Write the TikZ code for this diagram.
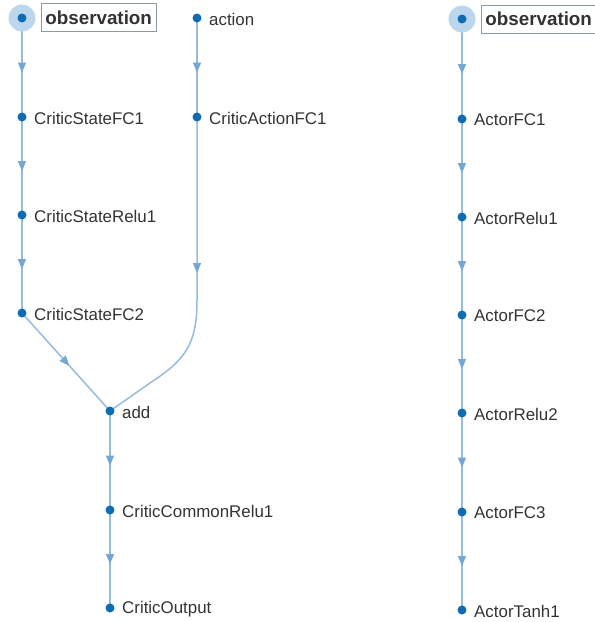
\documentclass[tikz,border=0pt]{standalone}
\usepackage{fontspec}
\setmainfont{Liberation Sans}
\usetikzlibrary{decorations.markings,backgrounds}
\definecolor{edgec}{HTML}{96BCDD}
\definecolor{markc}{HTML}{74A8D2}
\definecolor{dotc}{HTML}{0E6CB5}
\definecolor{halo}{HTML}{BCD7ED}
\definecolor{txtc}{HTML}{333333}
\definecolor{boxc}{HTML}{8A9AAA}
\tikzset{
  dot/.style={circle,fill=dotc,inner sep=0pt,minimum size=9pt},
  lbl/.style={anchor=west,inner sep=0pt,text=txtc,font=\fontsize{16.9}{20}\selectfont},
  sel/.style={anchor=west,draw=boxc,line width=0.8pt,fill=white,inner xsep=4pt,minimum height=28pt,text=txtc,font=\fontsize{18.8}{22}\selectfont\bfseries},
  halostyle/.style={circle,fill=halo,inner sep=0pt,minimum size=27pt},
  mk/.style={fill=markc},
  edge/.style={draw=edgec,line width=1.5pt,postaction={decorate},
    decoration={markings,mark=at position #1 with {\fill[mk] (5pt,0) -- (-5pt,4.2pt) -- (-5pt,-4.2pt) -- cycle;}}},
  edge/.default=0.5
}
\begin{document}
\begin{tikzpicture}[x=1pt,y=-1pt]
\useasboundingbox (0,0) rectangle (595,622);
% halos
\node[halostyle] (h1) at (22,18) {};
\node[halostyle] (h2) at (462,19) {};
% dots
\node[dot] (obs) at (22,18) {};
\node[dot] (csfc1) at (22,117) {};
\node[dot] (csr1) at (22,215) {};
\node[dot] (csfc2) at (22,313) {};
\node[dot] (act) at (197,18) {};
\node[dot] (cafc1) at (197,117) {};
\node[dot] (add) at (110,411) {};
\node[dot] (ccr1) at (110,510) {};
\node[dot] (cout) at (110,608) {};
\node[dot] (aobs) at (462,19) {};
\node[dot] (afc1) at (462,119) {};
\node[dot] (ar1) at (462,217) {};
\node[dot] (afc2) at (462,315) {};
\node[dot] (ar2) at (462,413) {};
\node[dot] (afc3) at (462,512) {};
\node[dot] (at1) at (462,610) {};
\coordinate (bend) at (197,300);
\coordinate (bend2) at (150,383);
% labels
\node[sel] (lobs) at (41,17.5) {observation};
\node[sel] (laobs) at (481,19) {observation};
\node[lbl] (lact) at (209,19) {action};
\node[lbl] (lcsfc1) at (34,118) {CriticStateFC1};
\node[lbl] (lcsr1) at (34,216) {CriticStateRelu1};
\node[lbl] (lcsfc2) at (34,314) {CriticStateFC2};
\node[lbl] (lcafc1) at (209,118) {CriticActionFC1};
\node[lbl] (ladd) at (122,412) {add};
\node[lbl] (lccr1) at (122,511) {CriticCommonRelu1};
\node[lbl] (lcout) at (122,609) {CriticOutput};
\node[lbl] (lafc1) at (474,120) {ActorFC1};
\node[lbl] (lar1) at (474,218) {ActorRelu1};
\node[lbl] (lafc2) at (474,316) {ActorFC2};
\node[lbl] (lar2) at (474,414) {ActorRelu2};
\node[lbl] (lafc3) at (474,513) {ActorFC3};
\node[lbl] (lat1) at (474,611) {ActorTanh1};
\begin{pgfonlayer}{background}
\path[edge] (obs.center) -- (csfc1.center);
\path[edge] (csfc1.center) -- (csr1.center);
\path[edge] (csr1.center) -- (csfc2.center);
\path[edge] (csfc2.center) -- (add.center);
\path[edge] (act.center) -- (cafc1.center);
\path[edge=151pt] (cafc1.center) -- (bend) .. controls (197,345) and (185,360) .. (bend2) -- (add.center);
\path[edge] (add.center) -- (ccr1.center);
\path[edge] (ccr1.center) -- (cout.center);
\path[edge] (aobs.center) -- (afc1.center);
\path[edge] (afc1.center) -- (ar1.center);
\path[edge] (ar1.center) -- (afc2.center);
\path[edge] (afc2.center) -- (ar2.center);
\path[edge] (ar2.center) -- (afc3.center);
\path[edge] (afc3.center) -- (at1.center);
\end{pgfonlayer}
\end{tikzpicture}
\end{document}
